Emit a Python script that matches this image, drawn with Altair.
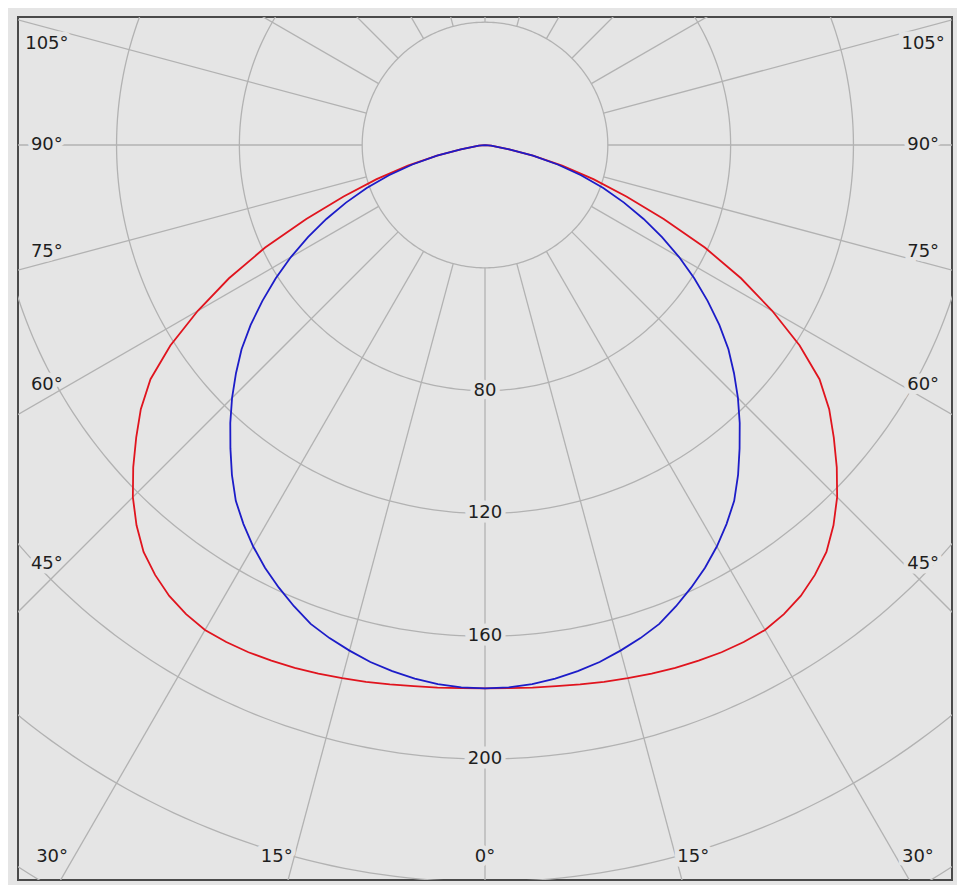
import altair as alt
import pandas as pd

# ---- data (luminous intensity, cd/klm) ----
# gamma angles (deg from nadir), same on both sides of the nadir
ANGLES = [0, 2.5, 5, 7.5, 10, 12.5, 15, 17.5, 20, 22.5, 25, 27.5, 30, 32.5,
          35, 37.5, 40, 42.5, 45, 47.5, 50, 52.5, 55, 57.5, 60, 62.5, 65,
          67.5, 70, 72.5, 75, 77.5, 80, 85, 90]
RED_I = [177, 177.1, 177.4, 177.8, 178.4, 179.1, 179.8, 180.5, 181.2, 181.8,
         182.3, 182.5, 182.4, 181.2, 179.3, 176.5, 173, 168, 162.2, 155.4,
         148.3, 141.3, 133, 121.5, 108, 94, 79, 63, 49, 37, 26, 16, 8, 2, 0]
BLUE_I = [177, 176.8, 176.3, 175.3, 174, 172.5, 170.5, 168.4, 166, 162.6,
          159, 155.2, 151, 146.4, 141.5, 135.4, 129, 122.8, 116.5, 110,
          103.5, 96.2, 88.5, 80.8, 73, 65, 57, 49, 41, 32.8, 24.5, 16, 8, 2, 0]
RINGS = [40, 80, 120, 160, 200, 240, 280]
RING_LABELS = [80, 120, 160, 200]
SPOKES = list(range(0, 360, 15))
ANGLE_LABELS = [0, 15, 30, 45, 60, 75, 90, 105]

# ---- styling / layout ----
BG = "#e5e5e5"
GRID = "#b2b2b2"
TXT = "#1e1e1e"
RED = "#e0141e"
BLUE = "#1c1cc8"
FONT = "DejaVu Sans"
X_DOMAIN = [-152.1, 152.1]
Y_DOMAIN = [-239.4, 41.7]
LABEL_X = 142.7
LABEL_Y = 231.9
W, H = 934, 863

# ---- tables ----
def plane(vals):
    rows = []
    for a, v in zip(ANGLES, vals):
        rows.append({"theta": -a, "I": v})
        if a:
            rows.append({"theta": a, "I": v})
    return pd.DataFrame(rows).sort_values("theta").reset_index(drop=True)

red_df = plane(RED_I)
blue_df = plane(BLUE_I)

ring_rows = [{"r": r, "phi": p} for r in RINGS for p in range(0, 361, 1)]
rings = pd.DataFrame(ring_rows)
spokes = pd.DataFrame({"a": SPOKES})
ring_lab = pd.DataFrame({"r": RING_LABELS})
alab_rows = []
for a in ANGLE_LABELS:
    for side in ([1] if a == 0 else [-1, 1]):
        alab_rows.append({"a": a, "side": side, "label": f"{a}°"})
alab = pd.DataFrame(alab_rows)

xs = alt.Scale(domain=X_DOMAIN, nice=False, zero=False)
ys = alt.Scale(domain=Y_DOMAIN, nice=False, zero=False)
X = lambda f: alt.X(f, type="quantitative", scale=xs, axis=None)
Y = lambda f: alt.Y(f, type="quantitative", scale=ys, axis=None)

ring_layer = alt.Chart(rings).transform_calculate(
    x="datum.r*sin(datum.phi*PI/180)",
    y="-datum.r*cos(datum.phi*PI/180)",
).mark_line(color=GRID, strokeWidth=1.3, clip=True).encode(
    x=X("x"), y=Y("y"), detail="r:N", order="phi:Q"
)

spoke_layer = alt.Chart(spokes).transform_calculate(
    x="40*sin(datum.a*PI/180)",
    y="-40*cos(datum.a*PI/180)",
    x2="450*sin(datum.a*PI/180)",
    y2="-450*cos(datum.a*PI/180)",
).mark_rule(color=GRID, strokeWidth=1.3, clip=True).encode(
    x=X("x"), y=Y("y"), x2="x2:Q", y2="y2:Q"
)

ring_text_base = alt.Chart(ring_lab).transform_calculate(
    x="0", y="-datum.r", t="datum.r + ''"
)
ring_halo = ring_text_base.mark_text(
    font=FONT, fontSize=18, stroke=BG, strokeWidth=9, color=BG, baseline="middle"
).encode(x=X("x"), y=Y("y"), text="t:N")
ring_text = ring_text_base.mark_text(
    font=FONT, fontSize=18, color=TXT, baseline="middle"
).encode(x=X("x"), y=Y("y"), text="t:N")

# labels sit next to the end of their spoke, nudged slightly toward the horizontal
alab_base = alt.Chart(alab).transform_calculate(
    adj="(datum.a == 0 || datum.a == 90) ? datum.a : (datum.a < 90 ? datum.a + 1.3 : datum.a - 2)"
).transform_calculate(
    theta="datum.side * datum.adj"
).transform_calculate(
    s="abs(sin(datum.theta*PI/180))",
    c="cos(datum.theta*PI/180)",
).transform_calculate(
    rr=f"min(datum.s > 0.001 ? {LABEL_X}/datum.s : 1e6, datum.c > 0.001 ? {LABEL_Y}/datum.c : 1e6)"
).transform_calculate(
    x="datum.rr*sin(datum.theta*PI/180)",
    y="-datum.rr*cos(datum.theta*PI/180)",
)
alab_halo = alab_base.mark_text(
    font=FONT, fontSize=18, stroke=BG, strokeWidth=9, color=BG, baseline="middle"
).encode(x=X("x"), y=Y("y"), text="label:N")
alab_text = alab_base.mark_text(
    font=FONT, fontSize=18, color=TXT, baseline="middle"
).encode(x=X("x"), y=Y("y"), text="label:N")

def curve(df, color):
    return alt.Chart(df).transform_calculate(
        x="datum.I*sin(datum.theta*PI/180)",
        y="-datum.I*cos(datum.theta*PI/180)",
    ).mark_line(color=color, strokeWidth=1.8, clip=True).encode(
        x=X("x"), y=Y("y"), order="theta:Q"
    )

red_layer = curve(red_df, RED)
blue_layer = curve(blue_df, BLUE)

chart = alt.layer(
    ring_layer, spoke_layer, ring_halo, ring_text, alab_halo, alab_text,
    red_layer, blue_layer
).properties(
    width=W, height=H,
    padding={"left": 10, "top": 9, "right": 5, "bottom": 5},
    background=BG,
).configure_view(stroke="#4a4a4a", strokeWidth=2)

chart.save("out.html", embed_options={"renderer": "svg", "actions": False})
